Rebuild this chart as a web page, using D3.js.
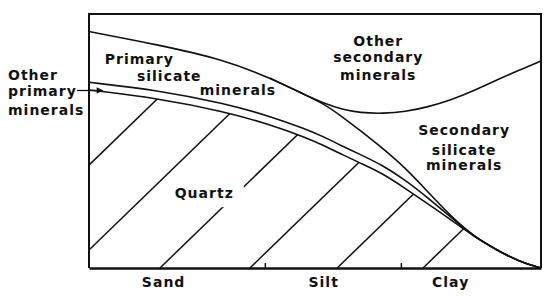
<!DOCTYPE html>
<html>
<head>
<meta charset="utf-8">
<script src="https://cdnjs.cloudflare.com/ajax/libs/d3/7.8.5/d3.min.js"></script>
<style>
  body { margin: 0; background: #fff; }
  text { font-family: "DejaVu Sans", sans-serif; font-weight: bold; font-size: 14px; letter-spacing: 1px; fill: #111; }
</style>
</head>
<body>
<div id="chart"></div>
<script>
// ******* data ********* //
// position along the particle size axis (0 = coarse sand ... 100 = fine clay)
var sizePos = [0, 15, 30, 40, 48, 52, 56, 60, 65, 70, 75, 80, 85, 90, 95, 100];
// cumulative share (%) at each position, bottom layer first
var quartzTop = [70.1, 66.9, 61.6, 56.5, 51.4, 48.2, 44.7, 41.3, 37.2, 31.3, 25.2, 19.1, 12.6, 7.3, 2.6, 0];
var otherPrimaryTop = [73.1, 70.1, 64.8, 59.8, 54.7, 51.6, 48.0, 44.7, 40.4, 34.6, 27.6, 20.1, 12.6, 7.3, 2.6, 0];
var primarySilicateTop = [93.1, 88.0, 82.0, 74.8, 68.0, 64.6, 59.6, 54.1, 47.1, 39.4, 29.9, 20.5, 12.6, 7.3, 2.6, 0];
var secondarySilicateTop = [null, null, null, 74.8, 68.0, 64.8, 62.4, 61.1, 60.8, 61.5, 63.4, 66.1, 69.7, 73.8, 77.8, 81.5];

var sizeClasses = ["Sand", "Silt", "Clay"];
var classCentres = [16.4, 51.8, 79.9];
var classBounds = [38.9, 69.0];

// quartz hatching: where each line meets the bottom axis
var hatchStarts = [-23.5, -4.1, 15.7, 35.6, 54.9, 73.9];
var hatchRun = 58; // x travelled over the full height

var width = 550,
    height = 300,
    margin = {top: 14, right: 9, bottom: 32, left: 89};

var svg = d3.select("#chart")
    .append("svg")
    .attr("width", width)
    .attr("height", height);

var x = d3.scaleLinear().domain([0, 100]).range([margin.left, width - margin.right]);
var y = d3.scaleLinear().domain([0, 100]).range([height - margin.bottom, margin.top]);

function series(vals) {
    return sizePos.map(function(p, i) { return [p, vals[i]]; });
}

var line = d3.line()
    .defined(function(d) { return d[1] != null; })
    .x(function(d) { return x(d[0]); })
    .y(function(d) { return y(d[1]); })
    .curve(d3.curveBasis);

var area = d3.area()
    .x(function(d) { return x(d[0]); })
    .y0(y(0))
    .y1(function(d) { return y(d[1]); })
    .curve(d3.curveBasis);

// ******* quartz hatching, clipped to the quartz layer ********* //
svg.append("clipPath")
    .attr("id", "quartz-clip")
    .append("path")
    .attr("d", area(series(quartzTop)));

svg.append("g")
    .attr("clip-path", "url(#quartz-clip)")
    .selectAll("line")
    .data(hatchStarts)
    .enter().append("line")
    .attr("x1", function(d) { return x(d); })
    .attr("y1", y(0))
    .attr("x2", function(d) { return x(d + hatchRun); })
    .attr("y2", y(100))
    .attr("stroke", "#111")
    .attr("stroke-width", 1.5);

// label with a white patch that breaks the hatching
var quartzLabel = svg.append("text")
    .attr("x", x(25.5))
    .attr("y", y(27.5))
    .attr("text-anchor", "middle")
    .text("Quartz");
var bb = quartzLabel.node().getBBox();
svg.insert("rect", "text")
    .attr("x", bb.x - 6)
    .attr("y", bb.y - 4)
    .attr("width", bb.width + 16)
    .attr("height", bb.height + 10)
    .attr("fill", "#fff");

// ******* boundary curves ********* //
[quartzTop, otherPrimaryTop, primarySilicateTop, secondarySilicateTop].forEach(function(vals) {
    svg.append("path")
        .attr("d", line(series(vals)))
        .attr("fill", "none")
        .attr("stroke", "#111")
        .attr("stroke-width", 1.6);
});

// ******* frame and size axis ********* //
svg.append("path")
    .attr("d", "M" + x(0) + "," + y(0) + "V" + y(100) + "H" + x(100) + "V" + y(0))
    .attr("fill", "none")
    .attr("stroke", "#111")
    .attr("stroke-width", 2);

var axis = svg.append("g")
    .attr("transform", "translate(0," + y(0) + ")")
    .call(d3.axisBottom(x).tickValues(classBounds).tickSize(-5).tickSizeOuter(0).tickFormat(""));
axis.select(".domain").attr("stroke", "#111").attr("stroke-width", 2.5);
axis.selectAll(".tick line").attr("stroke", "#111").attr("stroke-width", 1.5);

var labels = svg.append("g")
    .attr("transform", "translate(0," + y(0) + ")")
    .call(d3.axisBottom(x).tickValues(classCentres).tickSize(0).tickPadding(9)
        .tickFormat(function(d, i) { return sizeClasses[i]; }));
labels.select(".domain").remove();
labels.selectAll("text")
    .attr("fill", "#111")
    .style("font-family", "DejaVu Sans, sans-serif")
    .style("font-size", "14px")
    .style("font-weight", "bold");

// ******* region labels ********* //
function block(lines, px, baselines, anchor) {
    lines.forEach(function(t, i) {
        svg.append("text")
            .attr("x", px[i])
            .attr("y", baselines[i])
            .attr("text-anchor", anchor)
            .text(t);
    });
}

block(["Primary", "silicate", "minerals"], [x(3.5), x(10.6), x(24.5)], [y(80.5), y(73.5), y(68)], "start");
block(["Other", "secondary", "minerals"], [x(64), x(64), x(64)], [y(87.5), y(81), y(74)], "middle");
block(["Secondary", "silicate", "minerals"], [x(83), x(83), x(83)], [y(52.5), y(44.5), y(38.5)], "middle");
block(["Other", "primary", "minerals"], [8, 8, 8], [80, 96, 115], "start");

// arrow from the left label into the thin band
svg.append("defs").append("marker")
    .attr("id", "head")
    .attr("viewBox", "0 0 10 10")
    .attr("refX", 9).attr("refY", 5)
    .attr("markerWidth", 7).attr("markerHeight", 5)
    .attr("orient", "auto")
    .append("path")
    .attr("d", "M0,0L10,5L0,10z")
    .attr("fill", "#111");

svg.append("line")
    .attr("x1", 77).attr("y1", 90.5)
    .attr("x2", x(3)).attr("y2", 90.5)
    .attr("stroke", "#111")
    .attr("stroke-width", 1.3)
    .attr("marker-end", "url(#head)");
</script>
</body>
</html>
